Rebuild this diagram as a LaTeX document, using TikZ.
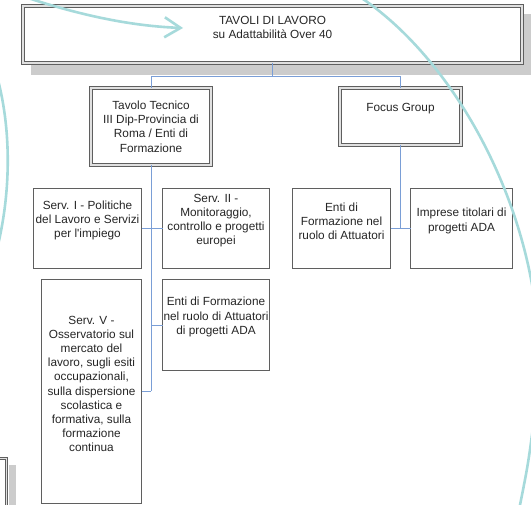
\documentclass[tikz,border=0pt]{standalone}
\usepackage{fontspec}
\setmainfont{Liberation Sans}
\usetikzlibrary{arrows.meta, calc}

\definecolor{linkblue}{RGB}{122,158,214}
\definecolor{swirl}{RGB}{166,218,219}
\definecolor{boxgray}{RGB}{95,95,95}

\begin{document}
\begin{tikzpicture}[
    x=1pt, y=-1pt,
    every node/.style={inner sep=0pt, outer sep=0pt},
    unitbox/.style={rectangle, draw=boxgray, line width=0.9pt, fill=white},
    headbox/.style={rectangle, draw=boxgray, line width=1.1pt, double=black!12, double distance=1.3pt, fill=white},
    lbl/.style={align=center, text=black!85, font=\fontsize{11.8}{14.2}\selectfont},
    link/.style={draw=linkblue, line width=0.9pt},
    swirlline/.style={draw=swirl, line width=2.6pt}
]
\clip (0,0) rectangle (531,505);

% shadows
\fill[black!20] (31,14) rectangle (535,75);
\fill[black!20] (9,465) rectangle (16,510);
\draw[boxgray, line width=1.1pt, double=black!12, double distance=1.3pt] (-30,458.5) rectangle (6.5,520);

% boxes
\node[headbox, minimum width=499pt, minimum height=57pt] (top) at (272.5,34.5) {};
\node[headbox, minimum width=120pt, minimum height=77pt] (tavolo) at (151,126.5) {};
\node[headbox, minimum width=121pt, minimum height=57pt] (focus) at (400.5,116.5) {};
\node[unitbox, minimum width=108pt, minimum height=80pt] (serv1) at (87.5,228.5) {};
\node[unitbox, minimum width=107pt, minimum height=80pt] (serv2) at (216,228.5) {};
\node[unitbox, minimum width=107pt, minimum height=91pt] (entiada) at (216,325) {};
\node[unitbox, minimum width=100pt, minimum height=224pt] (serv5) at (91.5,391.5) {};
\node[unitbox, minimum width=98pt, minimum height=80pt] (entiatt) at (341.5,228.5) {};
\node[unitbox, minimum width=102pt, minimum height=80pt] (imprese) at (461.5,228.5) {};

% texts
\node[lbl] (top-t) at ([yshift=7pt]top.center) {TAVOLI DI LAVORO\\[-1pt]su Adattabilità Over 40};
\node[lbl] (tavolo-t) at (tavolo.center) {Tavolo Tecnico\\III Dip-Provincia di\\Roma / Enti di\\Formazione};
\node[lbl] (focus-t) at ([yshift=7.5pt]focus.center) {Focus Group};
\node[lbl] (serv1-t) at ([yshift=8pt]serv1.center) {Serv. I - Politiche\\del Lavoro e Servizi\\per l\textquotesingle impiego};
\node[lbl] (serv2-t) at ([yshift=8pt]serv2.center) {Serv. II -\\Monitoraggio,\\controllo e progetti\\europei};
\node[lbl] (entiada-t) at ([yshift=8pt]entiada.center) {Enti di Formazione\\nel ruolo di Attuatori\\di progetti ADA};
\node[lbl] (serv5-t) at ([yshift=7.5pt]serv5.center) {Serv. V -\\Osservatorio sul\\mercato del\\lavoro, sugli esiti\\occupazionali,\\sulla dispersione\\scolastica e\\formativa, sulla\\formazione\\continua};
\node[lbl] (entiatt-t) at ([yshift=7.5pt]entiatt.center) {Enti di\\Formazione nel\\ruolo di Attuatori};
\node[lbl] (imprese-t) at ([yshift=7.5pt]imprese.center) {Imprese titolari di\\progetti ADA};

% connectors
\coordinate (bus) at (top.south |- 0,76);
\draw[link] (top.south) -- (bus);
\draw[link] (bus) -| (tavolo.north);
\draw[link] (bus) -| (focus.north);
\draw[link] (tavolo.south) -- (tavolo.south |- serv5.east);
\draw[link] (serv1.east) -- (serv2.west);
\draw[link] (tavolo.south |- entiada.west) -- (entiada.west);
\draw[link] (serv5.east) -- (tavolo.south |- serv5.east);
\draw[link] (focus.south) -- (focus.south |- entiatt.east);
\draw[link] (entiatt.east) -- (imprese.west);

% background swirls
\draw[swirlline, -{Straight Barb[length=16pt, width=20pt]}] (28,-2) .. controls (80,15) and (130,26) .. (183,28);
\draw[swirlline] (360,-3) .. controls (440,50) and (512,165) .. (533,290);
\draw[swirlline] (534,420) .. controls (528,465) .. (519,510);
\draw[swirlline] (-2,80) .. controls (11,130) and (11,190) .. (-2,245);

\end{tikzpicture}
\end{document}
